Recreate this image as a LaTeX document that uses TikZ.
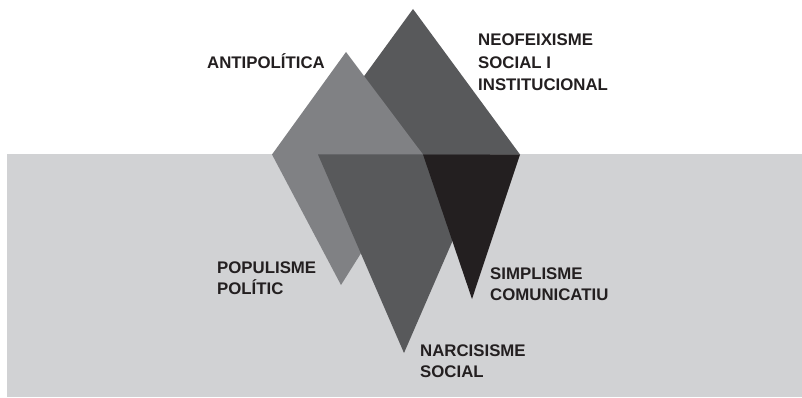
\documentclass[tikz,border=0pt]{standalone}
\usepackage{fontspec}
\setmainfont{Liberation Sans}
\usetikzlibrary{positioning}
\definecolor{aiguaC}{HTML}{D1D2D4}
\definecolor{clarC}{HTML}{808184}
\definecolor{foscC}{HTML}{58595B}
\definecolor{negreC}{HTML}{231F20}
\tikzset{
  aigua/.style = {fill=aiguaC},
  pclar/.style = {fill=clarC},
  pfosc/.style = {fill=foscC},
  pnegre/.style = {fill=negreC},
  rot/.style = {anchor=base west, inner sep=0pt, align=left,
    font=\fontsize{16.8}{20.5}\selectfont\bfseries, text=negreC}
}

\begin{document}
\begin{tikzpicture}[x=1pt, y=-1pt]
  \useasboundingbox [fill=white] (0,0) rectangle (802,398);
  % aigua
  \fill [aigua] (7,154.5) rectangle (802,397);
  % part de dalt
  \fill [pfosc] (413,9) -- (520,154.5) -- (307,154.5) -- cycle;
  \fill [pclar] (346,52) -- (423,154.5) -- (341,285) -- (272,154.5) -- cycle;
  % part de sota
  \fill [pfosc] (318,154.5) -- (490,154.5) -- (404,353) -- cycle;
  \fill [pnegre] (423,154.5) -- (520,154.5) -- (472,299) -- cycle;
  % etiquetes (ancorades a la darrera linia)
  \node [rot] (anti) at (207,69) {ANTIPOLÍTICA};
  \node [rot, font=\fontsize{16.8}{22.5}\selectfont\bfseries] (neo) at (478,91)
    {NEOFEIXISME\\SOCIAL I\\INSTITUCIONAL};
  \node [rot] (popu) at (217,294) {POPULISME\\POLÍTIC};
  \node [rot] (simp) at (490,300) {SIMPLISME\\COMUNICATIU};
  \node [rot] (narc) at (420,377) {NARCISISME\\SOCIAL};
\end{tikzpicture}
\end{document}
